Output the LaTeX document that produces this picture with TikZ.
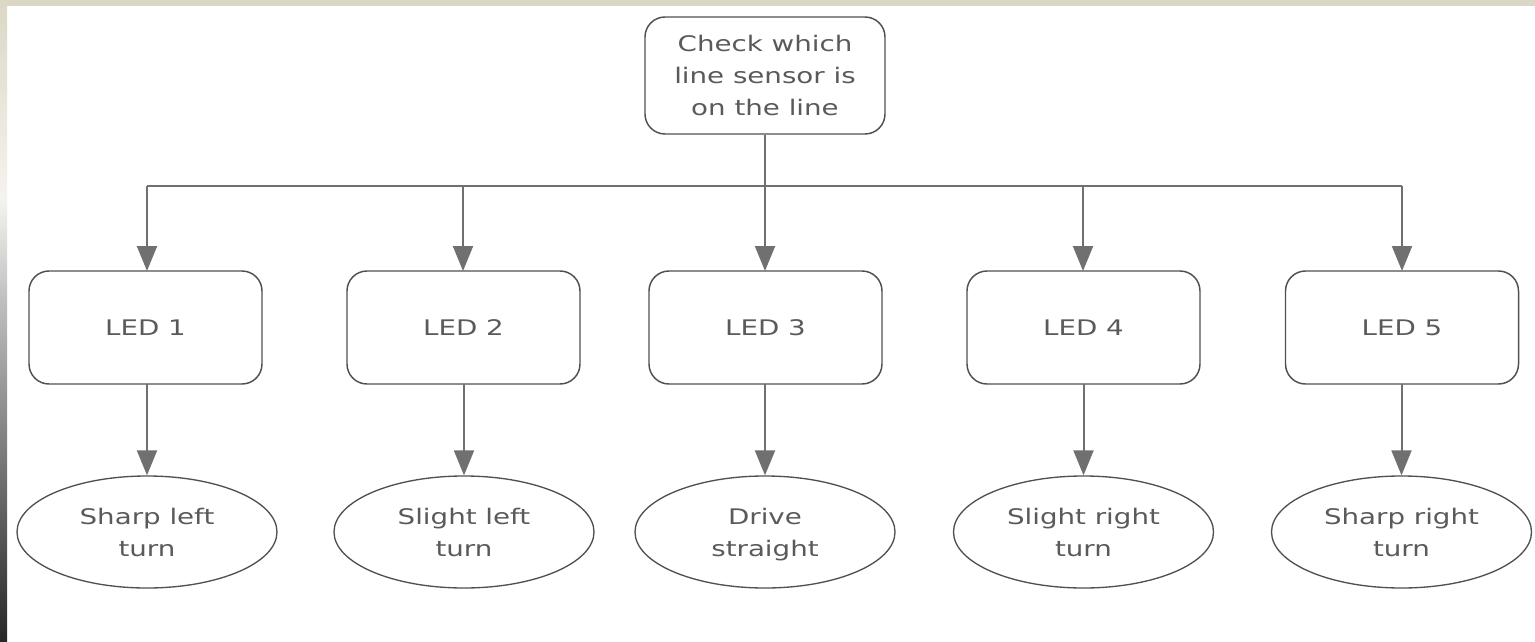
\documentclass[tikz,border=0pt]{standalone}
\usepackage{fontspec}
\setmainfont[FakeStretch=1.29]{DejaVu Sans}
\usetikzlibrary{arrows.meta,shapes.geometric}
\definecolor{txtc}{HTML}{5A5A5A}
\definecolor{edgec}{HTML}{505050}
\definecolor{linec}{HTML}{707070}
\definecolor{beige}{HTML}{DCD7C5}
\newcommand\lnstrut{\rule[-5.7pt]{0pt}{24pt}}
\begin{document}
\begin{tikzpicture}[x=0.75pt,y=-0.75pt,
  every node/.style={text=txtc, font=\fontsize{16.1}{24}\selectfont, align=center, inner sep=0pt},
  rbox/.style={draw=edgec, line width=1.1pt, rounded corners=15pt, fill=white},
  ledbox/.style={rbox, minimum width=174.75pt, minimum height=84.75pt},
  oval/.style={ellipse, draw=edgec, line width=1.0pt, fill=white, minimum width=195pt, minimum height=84pt},
  conn/.style={draw=linec, line width=1.5pt},
  arr/.style={conn, -{Triangle[width=15pt,length=18.75pt]}, linec}
]
% background and frame
\fill[white] (0,0) rectangle (1535,642);
\fill[beige] (0,0) rectangle (1535,6);
\shade[top color=beige, bottom color=beige!30] (0,0) rectangle (7,200);
\shade[top color=beige!30, bottom color=black!25] (0,200) rectangle (7,300);
\shade[top color=black!25, bottom color=black!85] (0,300) rectangle (7,642);
\useasboundingbox (0,0) rectangle (1535,642);

% top box
\node[rbox, minimum width=180pt, minimum height=87.75pt] (top) at (765,75.5) {\lnstrut Check which\\\lnstrut line sensor is\\\lnstrut on the line};

% LED boxes
\node[ledbox] (l1) at (145.5,327.5) {LED 1};
\node[ledbox] (l2) at (463.5,327.5) {LED 2};
\node[ledbox] (l3) at (765.5,327.5) {LED 3};
\node[ledbox] (l4) at (1083.5,327.5) {LED 4};
\node[ledbox] (l5) at (1402,327.5) {LED 5};

% ovals
\node[oval] (o1) at (147,532) {\lnstrut Sharp left\\\lnstrut turn};
\node[oval] (o2) at (464,532) {\lnstrut Slight left\\\lnstrut turn};
\node[oval] (o3) at (765,532) {\lnstrut Drive\\\lnstrut straight};
\node[oval] (o4) at (1083.5,532) {\lnstrut Slight right\\\lnstrut turn};
\node[oval] (o5) at (1401.5,532) {\lnstrut Sharp right\\\lnstrut turn};

% branching connectors
\coordinate (bl) at (147,186);
\coordinate (br) at (1402,186);
\draw[conn] (bl) -- (br);
\draw[arr] (top.south) -- (765,271);
\draw[arr] (bl) -- (147,271);
\draw[arr] (463,186) -- (463,271);
\draw[arr] (1083,186) -- (1083,271);
\draw[arr] (br) -- (1402,271);

% LED to action
\draw[arr] (147,384) -- (o1.north);
\draw[arr] (464,384) -- (o2.north);
\draw[arr] (765,384) -- (o3.north);
\draw[arr] (1083.5,384) -- (o4.north);
\draw[arr] (1401.5,384) -- (o5.north);
\end{tikzpicture}
\end{document}
